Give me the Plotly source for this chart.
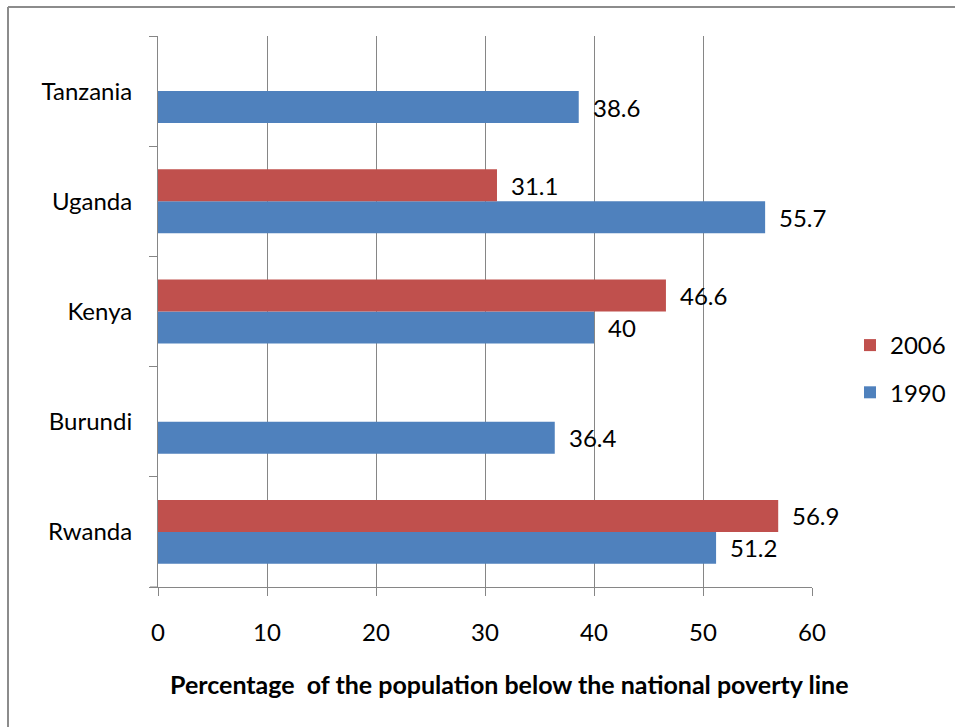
import plotly.graph_objects as go

countries = ["Rwanda", "Burundi", "Kenya", "Uganda", "Tanzania"]
poverty_1990 = [51.2, 36.4, 40.0, 55.7, 38.6]
poverty_2006 = [56.9, None, 46.6, 31.1, None]
x_ticks = [0, 10, 20, 30, 40, 50, 60]

BLUE = "#4F81BD"
RED = "#C0504D"
GRID = "#868686"
FONT = "Lato"

W, H = 955, 727
L, R, T, B = 158, 143, 36, 140
BARGAP = 0.42

fig = go.Figure()
fig.add_trace(go.Bar(y=countries, x=poverty_1990, orientation="h", name="1990",
                     marker=dict(color=BLUE, line=dict(width=0)),
                     legendgroup="g1990", legendrank=2))
fig.add_trace(go.Bar(y=countries, x=poverty_2006, orientation="h", name="2006",
                     marker=dict(color=RED, line=dict(width=0)),
                     legendgroup="g2006", legendrank=1))

# value labels just beyond each bar end, centred on the bar
half = (1 - BARGAP) / 4
annotations = []
for series, off in ((poverty_1990, -half), (poverty_2006, half)):
    for i, v in enumerate(series):
        if v is None:
            continue
        annotations.append(dict(x=v, y=i + off, xref="x", yref="y",
                                text=f"{v:g}", showarrow=False, xanchor="left",
                                yanchor="middle", xshift=12,
                                font=dict(family=FONT, size=24, color="#000")))

pw = W - L - R
ph = H - T - B
def px_x(p):
    return (p - L) / pw
def px_y(p):
    return (H - B - p) / ph

# axis title
annotations.append(dict(x=px_x(509), y=px_y(684), xref="paper", yref="paper",
                        showarrow=False, xanchor="center", yanchor="middle",
                        text="Percentage\u00a0 of the population below the national poverty line",
                        font=dict(family=FONT, size=25, color="#000", weight="bold")))

shapes = [
    # outer frame (left and top edges)
    dict(type="line", xref="paper", yref="paper", x0=px_x(8), x1=px_x(960),
         y0=px_y(7), y1=px_y(7), line=dict(color="#8C8C8C", width=2)),
    dict(type="line", xref="paper", yref="paper", x0=px_x(8), x1=px_x(8),
         y0=px_y(7), y1=px_y(740), line=dict(color="#8C8C8C", width=2)),
    # short extension of the value axis line to the left
    dict(type="line", xref="paper", yref="paper", x0=px_x(150), x1=0,
         y0=0, y1=0, line=dict(color=GRID, width=1)),
]

fig.update_layout(
    width=W, height=H,
    margin=dict(l=L, r=R, t=T, b=B, pad=0, autoexpand=False),
    paper_bgcolor="white", plot_bgcolor="white",
    barmode="group", bargap=BARGAP, bargroupgap=0,
    font=dict(family=FONT, size=24, color="#000"),
    showlegend=True,
    legend=dict(x=px_x(850), y=px_y(323), xanchor="left", yanchor="top",
                traceorder="grouped", tracegroupgap=13,
                font=dict(family=FONT, size=24, color="#000"),
                bgcolor="rgba(0,0,0,0)"),
    annotations=annotations,
    shapes=shapes,
    xaxis=dict(range=[0, 60], tickvals=x_ticks, ticktext=[str(t) for t in x_ticks],
               showgrid=True, gridcolor=GRID, gridwidth=1,
               showline=True, linecolor=GRID, linewidth=1,
               ticks="outside", ticklen=8, tickcolor=GRID,
               ticklabelstandoff=16, zeroline=False,
               tickfont=dict(family=FONT, size=24, color="#000")),
    yaxis=dict(type="category", categoryorder="array", categoryarray=countries,
               showgrid=False, showline=True, linecolor=GRID, linewidth=1,
               ticks="outside", ticklen=8, tickcolor=GRID, tickson="boundaries",
               ticklabelstandoff=20,
               tickfont=dict(family=FONT, size=24, color="#000")),
)

fig.write_html("out.html")
